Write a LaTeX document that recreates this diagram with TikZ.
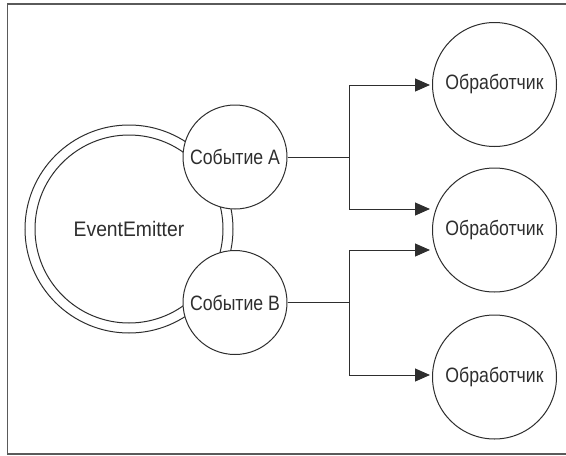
\documentclass[tikz,border=0pt]{standalone}
\usepackage{fontspec}
\setmainfont{Liberation Sans}[FakeStretch=0.85]
\newfontfamily\widefont{Liberation Sans}[FakeStretch=0.92]
\usetikzlibrary{arrows.meta}
\definecolor{ink}{HTML}{2E2E2E}
\definecolor{framegray}{HTML}{5A5A5A}
\tikzset{
  circ/.style={circle, draw=ink, line width=1pt, fill=white, inner sep=0pt, font=\fontsize{20.8}{24}\selectfont, text=ink},
  conn/.style={draw=ink, line width=1pt},
  arr/.style={conn, -{Triangle[length=15pt, width=13pt]}},
}
\begin{document}
\begin{tikzpicture}[x=1pt, y=-1pt]
\useasboundingbox (0,0) rectangle (566,456);
\begin{scope}
\clip (0,0) rectangle (566,456);
\draw[framegray, line width=1.5pt] (7.5,4) rectangle (600,454);
\end{scope}
% EventEmitter double ring
\node[circ, minimum size=208pt] (ring) at (129,229) {};
\node[circ, minimum size=188pt, font=\widefont\fontsize{21}{24}\selectfont] (ee) at (129,229) {EventEmitter};
% events
\node[circ, minimum size=104pt] (ea) at (235,157) {Событие A};
\node[circ, minimum size=104pt] (eb) at (235,302.5) {Событие B};
% handlers
\node[circ, minimum size=124pt] (h1) at (494.5,84.5) {Обработчик};
\node[circ, minimum size=124pt] (h2) at (494.5,230) {Обработчик};
\node[circ, minimum size=124pt] (h3) at (494.5,377) {Обработчик};
% junctions
\coordinate (ja) at (349,157);
\coordinate (jb) at (349,302.5);
\coordinate (ta1) at (430,85);
\coordinate (ta2) at (430,209);
\coordinate (tb1) at (430,250);
\coordinate (tb2) at (430,375);
\draw[conn] (ea.east) -- (ja);
\draw[conn] (eb.east) -- (jb);
\draw[arr] (ja) |- (ta1);
\draw[arr] (ja) |- (ta2);
\draw[arr] (jb) |- (tb1);
\draw[arr] (jb) |- (tb2);
\end{tikzpicture}
\end{document}
